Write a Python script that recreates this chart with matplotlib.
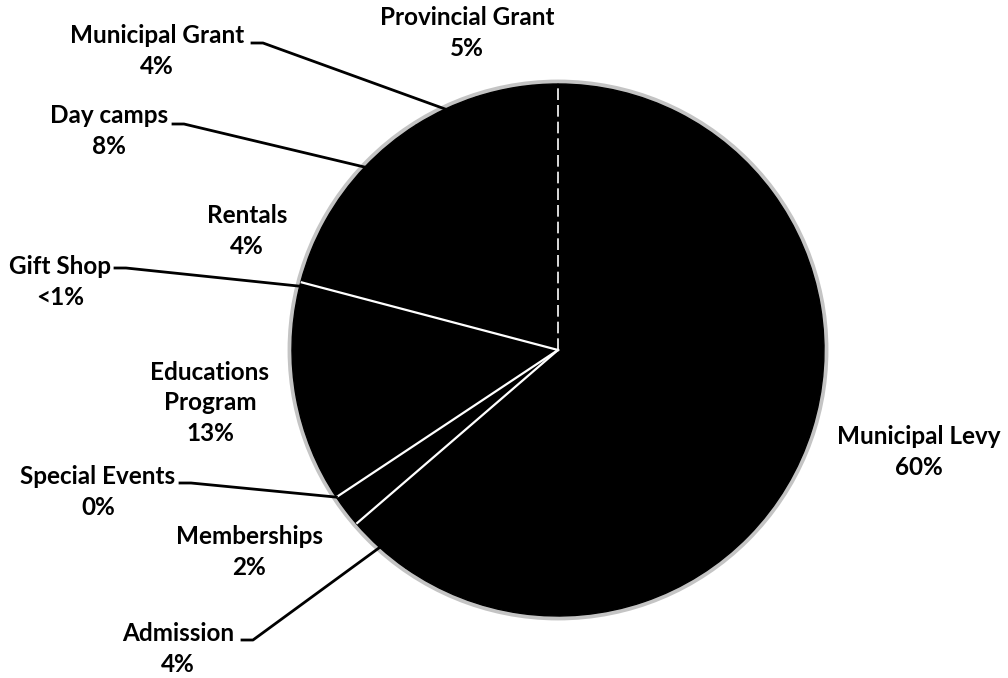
import numpy as np
import matplotlib
matplotlib.use("Agg")
import matplotlib.pyplot as plt
from matplotlib.patches import Circle

# slices, clockwise from 12 o'clock
labels = ["Municipal Levy", "Admission", "Memberships", "Special Events",
          "Educations\nProgram", "Gift Shop", "Rentals", "Day camps",
          "Municipal Grant", "Provincial Grant"]
values = [60, 4, 2, 0, 13, 0.5, 4, 8, 4, 5]
pct_text = ["60%", "4%", "2%", "0%", "13%", "<1%", "4%", "8%", "4%", "5%"]

W, H = 1008, 678
CX, CY, R = 558, H - 350, 266

# label centres (pixel coords from the top-left)
label_pos = {
    "Municipal Levy": (919, 452),
    "Admission": (178, 649),
    "Memberships": (249, 552),
    "Special Events": (98, 492),
    "Educations\nProgram": (210, 403),
    "Gift Shop": (60, 282),
    "Rentals": (247, 231),
    "Day camps": (109, 131),
    "Municipal Grant": (157, 51),
    "Provincial Grant": (467, 33),
}
# leader lines: start of the short horizontal tick next to the label
leaders = {
    "Municipal Grant": (252, 43),
    "Day camps": (173, 124),
    "Gift Shop": (115, 268),
    "Special Events": (180, 483),
    "Admission": (242, 640),
}
white_edges = [("Memberships", 0), ("Memberships", 1), ("Gift Shop", 1)]

plt.rcParams["font.family"] = ["Lato", "DejaVu Sans"]

fig = plt.figure(figsize=(W / 100, H / 100), dpi=100)
ax = fig.add_axes([0, 0, 1, 1])

# grey speckled halo of the scan
ax.add_patch(Circle((CX, CY), R + 2, fill=False, ec="#c4c4c4", lw=3.5, zorder=1))

ax.pie(values, startangle=90, counterclock=False, colors=["black"] * len(values),
       center=(CX, CY), radius=R, frame=True,
       wedgeprops=dict(linewidth=1.0, edgecolor="black", zorder=2))
ax.set_xlim(0, W)
ax.set_ylim(0, H)
ax.set_aspect("equal")
ax.axis("off")

# slice boundary angles (degrees, clockwise from top)
frac = np.array(values, dtype=float) / sum(values)
bounds = 90 - 360 * np.concatenate([[0], np.cumsum(frac)])
mids = (bounds[:-1] + bounds[1:]) / 2


def on_circle(ang, r=R):
    a = np.deg2rad(ang)
    return CX + r * np.cos(a), CY + r * np.sin(a)


# white separator lines visible in the scan
x0, y0 = on_circle(bounds[0], R - 1)
ax.plot([CX, x0], [CY, y0], color="white", lw=1.2, ls=(0, (7, 3)), zorder=3)
for name, side in white_edges:
    i = labels.index(name)
    x1, y1 = on_circle(bounds[i + side], R - 1)
    ax.plot([CX, x1], [CY, y1], color="white", lw=1.6, zorder=3)

for i, name in enumerate(labels):
    lx, ly = label_pos[name]
    ax.text(lx, H - ly, name + "\n" + pct_text[i], ha="center", va="center",
            fontsize=17.5, fontweight="bold", color="black", linespacing=1.42,
            zorder=4)
    if name in leaders:
        sx, sy = leaders[name]
        ex, ey = on_circle(mids[i])
        ax.plot([sx, sx + 11, ex], [H - sy, H - sy, ey], color="black",
                lw=2, solid_joinstyle="round", zorder=3)

fig.savefig("out.png", dpi=100)
